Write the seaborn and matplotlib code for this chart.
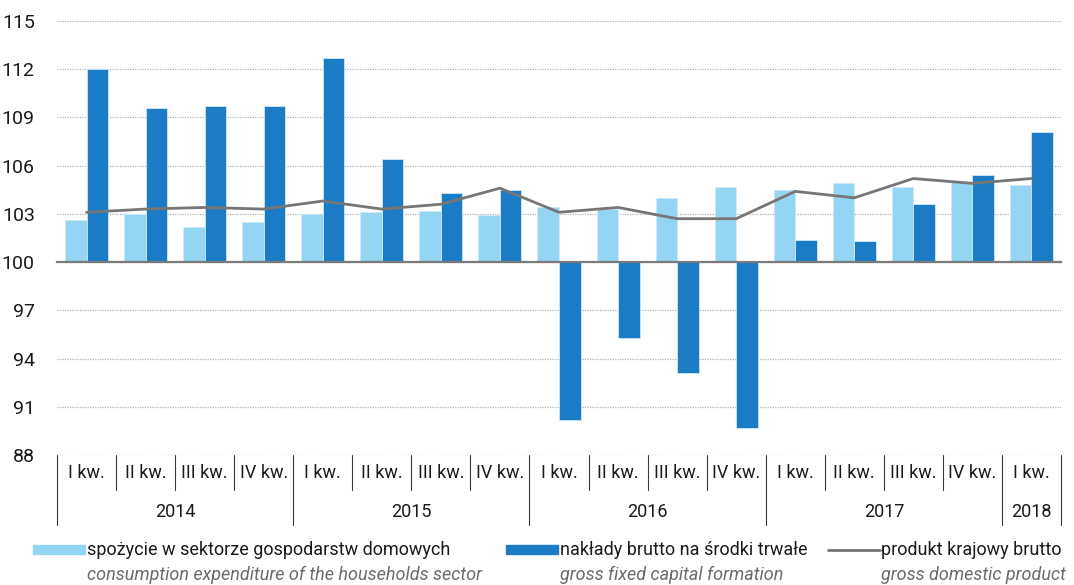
import numpy as np
import pandas as pd
import matplotlib
matplotlib.use("Agg")
import matplotlib.pyplot as plt
import matplotlib.transforms as mtransforms
from matplotlib.patches import Rectangle
from matplotlib.lines import Line2D
import seaborn as sns

# data (previous year = 100)
quarters = ["I kw.", "II kw.", "III kw.", "IV kw."] * 4 + ["I kw."]
years = ["2014", "2015", "2016", "2017", "2018"]
year_len = [4, 4, 4, 4, 1]

consumption = [102.6, 103.0, 102.2, 102.5, 103.0, 103.1, 103.2, 102.9,
               103.4, 103.3, 104.0, 104.7, 104.5, 104.9, 104.7, 105.0, 104.8]
investment = [112.0, 109.6, 109.7, 109.7, 112.7, 106.4, 104.3, 104.5,
              90.2, 95.3, 93.1, 89.7, 101.4, 101.3, 103.6, 105.4, 108.1]
gdp = [103.1, 103.3, 103.4, 103.3, 103.8, 103.3, 103.6, 104.6,
       103.1, 103.4, 102.7, 102.7, 104.4, 104.0, 105.2, 104.9, 105.2]

names_pl = ["spożycie w sektorze gospodarstw domowych",
            "nakłady brutto na środki trwałe",
            "produkt krajowy brutto"]
names_en = ["consumption expenditure of the households sector",
            "gross fixed capital formation",
            "gross domestic product"]

light = "#93d5f3"
dark = "#1b7bc4"
grey_line = "#767676"

sns.set_style("white")
plt.rcParams["font.family"] = ["Roboto", "DejaVu Sans"]

n = len(quarters)
period = np.arange(n)
df = pd.DataFrame({
    "period": np.concatenate([period, period]),
    "series": [names_pl[0]] * n + [names_pl[1]] * n,
    "value": consumption + investment,
})
df["height"] = df["value"] - 100

fig = plt.figure(figsize=(10.74, 5.85), dpi=100)
ax = fig.add_axes([57 / 1074, 1 - 455 / 585, (1061 - 57) / 1074, (455 - 21) / 585])

sns.barplot(data=df, x="period", y="height", hue="series",
            palette=[light, dark], saturation=1, width=0.73, bottom=100,
            errorbar=None, legend=False, ax=ax, edgecolor="#cdeaf8",
            linewidth=0.6, zorder=2)
sns.lineplot(x=period, y=gdp, color=grey_line, lw=2.0, ax=ax, zorder=3)

ax.set_xlim(-0.5, n - 0.5)
ax.set_ylim(88, 115)
ax.set_yticks(np.arange(88, 116, 3))
ax.set_xlabel("")
ax.set_ylabel("")
ax.yaxis.grid(True, color="#b4b4b4", linestyle=(0, (1, 1)), lw=0.9, zorder=0)
ax.set_axisbelow(True)

for s in ["left", "right", "top"]:
    ax.spines[s].set_visible(False)
ax.spines["bottom"].set_position(("data", 100))
ax.spines["bottom"].set_color("#7a7a7a")
ax.spines["bottom"].set_linewidth(1.6)
ax.spines["bottom"].set_zorder(4)

ax.set_xticks(np.arange(-0.5, n, 1))
ax.set_xticklabels([])
ax.tick_params(axis="x", direction="out", length=5, width=1.1, color="#555555")
ax.tick_params(axis="y", length=0, pad=16, labelsize=14, labelcolor="#1a1a1a")

# category table under the plot
trans = mtransforms.blended_transform_factory(ax.transData, ax.transAxes)
year_edges = np.cumsum([0] + year_len) - 0.5
for b in np.arange(-0.5, n, 1):
    end = -0.162 if b in year_edges else -0.081
    ax.plot([b, b], [0, end], transform=trans, clip_on=False,
            color="#3a3a3a", lw=0.8)
for i, q in enumerate(quarters):
    ax.text(i, -0.042, q, transform=trans, ha="center", va="center",
            fontsize=13, color="#1a1a1a")
start = 0
for y, k in zip(years, year_len):
    ax.text(start + (k - 1) / 2, -0.132, y, transform=trans, ha="center",
            va="center", fontsize=13, color="#1a1a1a")
    start += k

# legend drawn under the table
def fx(px):
    return px / 1074

def fy(py):
    return 1 - py / 585

fig.patches.append(Rectangle((fx(33), fy(554)), fx(52), 9 / 585,
                             transform=fig.transFigure, color=light))
fig.patches.append(Rectangle((fx(506), fy(554)), fx(52), 9 / 585,
                             transform=fig.transFigure, color=dark))
fig.lines.append(Line2D([fx(828), fx(880)], [fy(550), fy(550)],
                        transform=fig.transFigure, color=grey_line, lw=2.0))
for x0, pl, en in zip([87, 560, 881], names_pl, names_en):
    fig.text(fx(x0), fy(550), pl, ha="left", va="center", fontsize=13,
             color="#1a1a1a")
    fig.text(fx(x0), fy(575), en, ha="left", va="center", fontsize=13,
             color="#6b6b6b", style="italic")

fig.savefig("out.png", dpi=100)
